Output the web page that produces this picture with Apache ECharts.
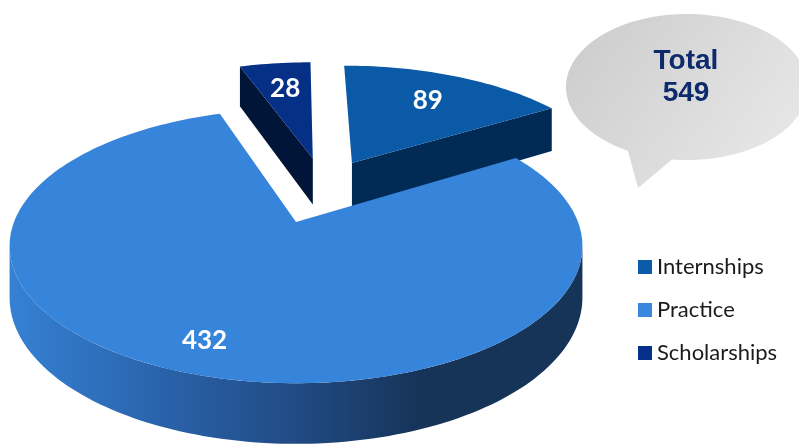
<!DOCTYPE html>
<html><head><meta charset="utf-8">
<script src="https://cdn.jsdelivr.net/npm/echarts@6/dist/echarts.min.js"></script>
<style>html,body{margin:0;padding:0;background:#fff}#c{width:799px;height:445px}</style>
</head><body><div id="c"></div>
<script>
// ---- data ----
const categories = ['Internships', 'Practice', 'Scholarships'];
const values = [89, 432, 28];
const totalTitle = 'Total';

// ---- style ----
const topColors = ['#0a5aa7', '#3784db', '#062f86'];
const faceColors = ['#012a55', '#1d3f70', '#001538'];
const legendColors = ['#0b5ba8', '#3a87dd', '#06318a'];
const explode = [[0.215, -0.48], [0, 0], [0.065, -0.52]];
const labelR = [0.7, 0.82, 0.7];
const G = { cx: 296, cy: 222, R: 282, Ry: 133, p: 0.175, H: 50 };
const sideGradient = {
  type: 'linear', x: 0, y: 0, x2: 1, y2: 0,
  colorStops: [
    { offset: 0, color: '#3681d4' },
    { offset: 0.25, color: '#2a64ad' },
    { offset: 0.5, color: '#214b84' },
    { offset: 0.72, color: '#163358' },
    { offset: 1, color: '#163358' }
  ]
};

const total = values.reduce((a, b) => a + b, 0);
const starts = [];
values.reduce((acc, v, i) => { starts[i] = acc / total * 360; return acc + v; }, 0);

function proj(u, v, h) {
  const w = 1 / (1 - G.p * v);
  return [G.cx + G.R * u * w, G.cy + (G.Ry * v + (h || 0)) * w];
}
function rim(ou, ov, a, h) {
  const r = a * Math.PI / 180;
  return proj(ou + Math.sin(r), ov - Math.cos(r), h);
}
function arcPts(ou, ov, a0, a1, h) {
  const n = Math.max(2, Math.ceil(Math.abs(a1 - a0) / 1.5));
  const pts = [];
  for (let k = 0; k <= n; k++) pts.push(rim(ou, ov, a0 + (a1 - a0) * k / n, h));
  return pts;
}

function renderSlice(i) {
  return function (params, api) {
    const val = api.value(0);
    const a0 = starts[i], a1 = a0 + val / total * 360;
    const ou = explode[i][0], ov = explode[i][1];
    const children = [];
    [[a0, -1], [a1, 1]].forEach(function (e) {
      const r = e[0] * Math.PI / 180;
      const nv = e[1] * Math.sin(r);
      if (nv > 0.05) {
        const pts = [proj(ou, ov, 0), rim(ou, ov, e[0], 0), rim(ou, ov, e[0], G.H), proj(ou, ov, G.H)];
        children.push({ type: 'polygon', shape: { points: pts }, style: { fill: faceColors[i] } });
      }
    });
    const s0 = Math.max(a0, 100.1), s1 = Math.min(a1, 259.9);
    if (s1 > s0) {
      const top = arcPts(ou, ov, s0, s1, 0), bot = arcPts(ou, ov, s0, s1, G.H).reverse();
      children.push({ type: 'polygon', shape: { points: top.concat(bot) }, style: { fill: sideGradient } });
    }
    const topPts = [proj(ou, ov, 0)].concat(arcPts(ou, ov, a0, a1, 0));
    children.push({ type: 'polygon', shape: { points: topPts }, style: { fill: topColors[i] } });
    const mid = (a0 + a1) / 2 * Math.PI / 180;
    const lp = proj(ou + labelR[i] * Math.sin(mid), ov - labelR[i] * Math.cos(mid), 0);
    children.push({ type: 'text', x: lp[0], y: lp[1],
      style: { text: String(val), fill: '#ffffff', font: 'bold 26px Lato', align: 'center', verticalAlign: 'middle' } });
    return { type: 'group', children: children };
  };
}

// speech bubble outline
const bub = { cx: 687, cy: 87, rx: 121, ry: 73 };
const bubPts = [];
for (let f = 119.2; f <= 97.1 + 360; f += 2) {
  const r = f * Math.PI / 180;
  bubPts.push([bub.cx + bub.rx * Math.cos(r), bub.cy + bub.ry * Math.sin(r)]);
}
bubPts.push([bub.cx + bub.rx * Math.cos(97.1 * Math.PI / 180), bub.cy + bub.ry * Math.sin(97.1 * Math.PI / 180)]);
bubPts.push([638, 188]);

const chart = echarts.init(document.getElementById('c'), null, { renderer: 'canvas' });
chart.setOption({
  animation: false,
  backgroundColor: '#ffffff',
  legend: {
    data: categories, orient: 'vertical', left: 633, top: 251,
    icon: 'rect', itemWidth: 14, itemHeight: 14, itemGap: 21, selectedMode: false,
    textStyle: { fontFamily: 'Lato', fontSize: 22, color: '#1b1b1b', lineHeight: 22 }
  },
  graphic: [
    { type: 'polygon', z: 1, shape: { points: bubPts },
      style: { fill: { type: 'linear', x: 0, y: 0, x2: 1, y2: 1,
        colorStops: [{ offset: 0, color: '#cbcbcb' }, { offset: 1, color: '#ebebeb' }] } } },
    { type: 'text', z: 2, x: 686, y: 61,
      style: { text: totalTitle, fill: '#0c2a6c', font: 'bold 28px "Liberation Sans"', align: 'center', verticalAlign: 'middle' } },
    { type: 'text', z: 2, x: 686, y: 93,
      style: { text: String(total), fill: '#0c2a6c', font: 'bold 28px "Liberation Sans"', align: 'center', verticalAlign: 'middle' } }
  ],
  series: categories.map(function (name, i) {
    return {
      type: 'custom', name: name, coordinateSystem: 'none', z: i === 1 ? 3 : 2,
      itemStyle: { color: legendColors[i] }, silent: true,
      renderItem: renderSlice(i),
      data: [[values[i]]]
    };
  })
});
</script></body></html>
